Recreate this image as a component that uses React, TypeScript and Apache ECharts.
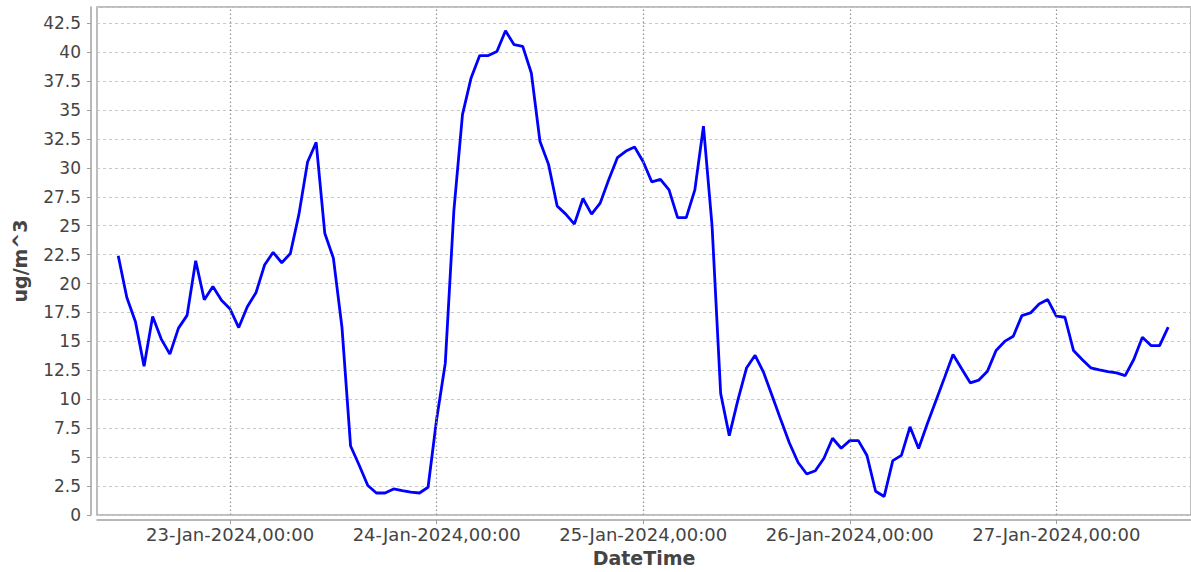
import React, { useEffect, useRef } from "react";
import * as echarts from "echarts";

// Hourly PM concentration (ug/m^3), 22-Jan-2024 11:00 .. 27-Jan-2024 13:00
const jan22From11: number[] = [22.4, 18.8, 16.7, 12.85, 17.15, 15.2, 13.9, 16.15, 17.25, 21.97, 18.6, 19.75, 18.55];
const jan23: number[] = [17.8, 16.2, 18.0, 19.2, 21.6, 22.7, 21.8, 22.6, 26.0, 30.5, 32.2, 24.35, 22.2, 16.2, 5.96, 4.3, 2.55, 1.9, 1.9, 2.25, 2.1, 1.97, 1.9, 2.4];
const jan24: number[] = [8.3, 13.1, 26.3, 34.6, 37.77, 39.7, 39.7, 40.05, 41.84, 40.64, 40.5, 38.2, 32.3, 30.3, 26.7, 26.0, 25.14, 27.35, 26.0, 26.95, 29.0, 30.88, 31.45, 31.8];
const jan25: number[] = [30.53, 28.78, 29.0, 28.1, 25.7, 25.7, 28.1, 33.6, 25.0, 10.5, 6.86, 9.93, 12.7, 13.8, 12.3, 10.27, 8.2, 6.2, 4.54, 3.54, 3.83, 4.91, 6.63, 5.77];
const jan26: number[] = [6.43, 6.43, 5.14, 2.05, 1.6, 4.7, 5.15, 7.62, 5.75, 7.87, 9.85, 11.85, 13.87, 12.64, 11.42, 11.66, 12.43, 14.21, 15.0, 15.45, 17.23, 17.46, 18.24, 18.62];
const jan27To13: number[] = [17.18, 17.09, 14.21, 13.44, 12.72, 12.54, 12.4, 12.28, 12.05, 13.44, 15.36, 14.64, 14.64, 16.23];

const firstTime = Date.UTC(2024, 0, 22, 11, 0);
const HOUR = 3600 * 1000;

// Day ticks on the x axis
const dayTicks: number[] = [
  Date.UTC(2024, 0, 23),
  Date.UTC(2024, 0, 24),
  Date.UTC(2024, 0, 25),
  Date.UTC(2024, 0, 26),
  Date.UTC(2024, 0, 27),
];

const xMin = Date.UTC(2024, 0, 22, 8, 32);
const xMax = Date.UTC(2024, 0, 27, 15, 39);
const yMax = 43.9;

const MONTHS = ["Jan", "Feb", "Mar", "Apr", "May", "Jun", "Jul", "Aug", "Sep", "Oct", "Nov", "Dec"];
const pad = (n: number) => (n < 10 ? "0" + n : "" + n);
const fmt = (v: number) => {
  const d = new Date(v);
  return `${pad(d.getUTCDate())}-${MONTHS[d.getUTCMonth()]}-${d.getUTCFullYear()},${pad(d.getUTCHours())}:${pad(d.getUTCMinutes())}`;
};

export default function App() {
  const ref = useRef<HTMLDivElement>(null);
  useEffect(() => {
    document.body.style.margin = "0";
    if (!ref.current) return;
    const chart = echarts.init(ref.current, undefined, { renderer: "svg" });
    const values = [...jan22From11, ...jan23, ...jan24, ...jan25, ...jan26, ...jan27To13];
    const data = values.map((v, i) => [firstTime + i * HOUR, v]);
    const font = "DejaVu Sans";
    chart.setOption({
      animation: false,
      backgroundColor: "#ffffff",
      grid: {
        left: 97,
        right: -2,
        top: 7,
        bottom: 54,
        show: true,
        borderColor: "#a8a8a8",
        borderWidth: 1.5,
        backgroundColor: "#ffffff",
      },
      xAxis: {
        type: "value",
        min: xMin,
        max: xMax,
        offset: 5,
        name: "DateTime",
        nameLocation: "middle",
        nameGap: 28,
        nameTextStyle: { fontFamily: font, fontSize: 19, fontWeight: "bold", color: "#444444" },
        axisLine: { show: true, onZero: false, lineStyle: { color: "#a0a0a0", width: 1.5 } },
        axisTick: { show: true, length: 4, customValues: dayTicks, lineStyle: { color: "#a0a0a0" } },
        axisLabel: {
          customValues: dayTicks,
          margin: 5,
          fontFamily: font,
          fontSize: 18,
          color: "#444444",
          formatter: (v: number) => fmt(v),
        },
        splitLine: { show: false },
      },
      yAxis: {
        type: "value",
        min: 0,
        max: yMax,
        interval: 2.5,
        offset: 6,
        name: "ug/m^3",
        nameLocation: "middle",
        nameGap: 62,
        nameTextStyle: { fontFamily: font, fontSize: 19, fontWeight: "bold", color: "#444444" },
        axisLine: { show: true, lineStyle: { color: "#a0a0a0", width: 1.5 } },
        axisTick: { show: true, length: 4, lineStyle: { color: "#a0a0a0" } },
        axisLabel: {
          showMaxLabel: false,
          margin: 10,
          fontFamily: font,
          fontSize: 17,
          color: "#444444",
        },
        splitLine: { show: true, lineStyle: { color: "#c8c8c8", type: [3, 3], width: 1 } },
      },
      series: [
        {
          type: "line",
          data,
          showSymbol: false,
          symbol: "none",
          lineStyle: { color: "#0000ff", width: 2.8 },
          itemStyle: { color: "#0000ff" },
          markLine: {
            silent: true,
            symbol: ["none", "none"],
            label: { show: false },
            lineStyle: { color: "#909090", type: [1.5, 2.5], width: 1.2 },
            data: dayTicks.map((t) => ({ xAxis: t })),
          },
          z: 3,
        },
      ],
    });
    return () => chart.dispose();
  }, []);
  return <div ref={ref} style={{ width: 1191, height: 572 }} />;
}
